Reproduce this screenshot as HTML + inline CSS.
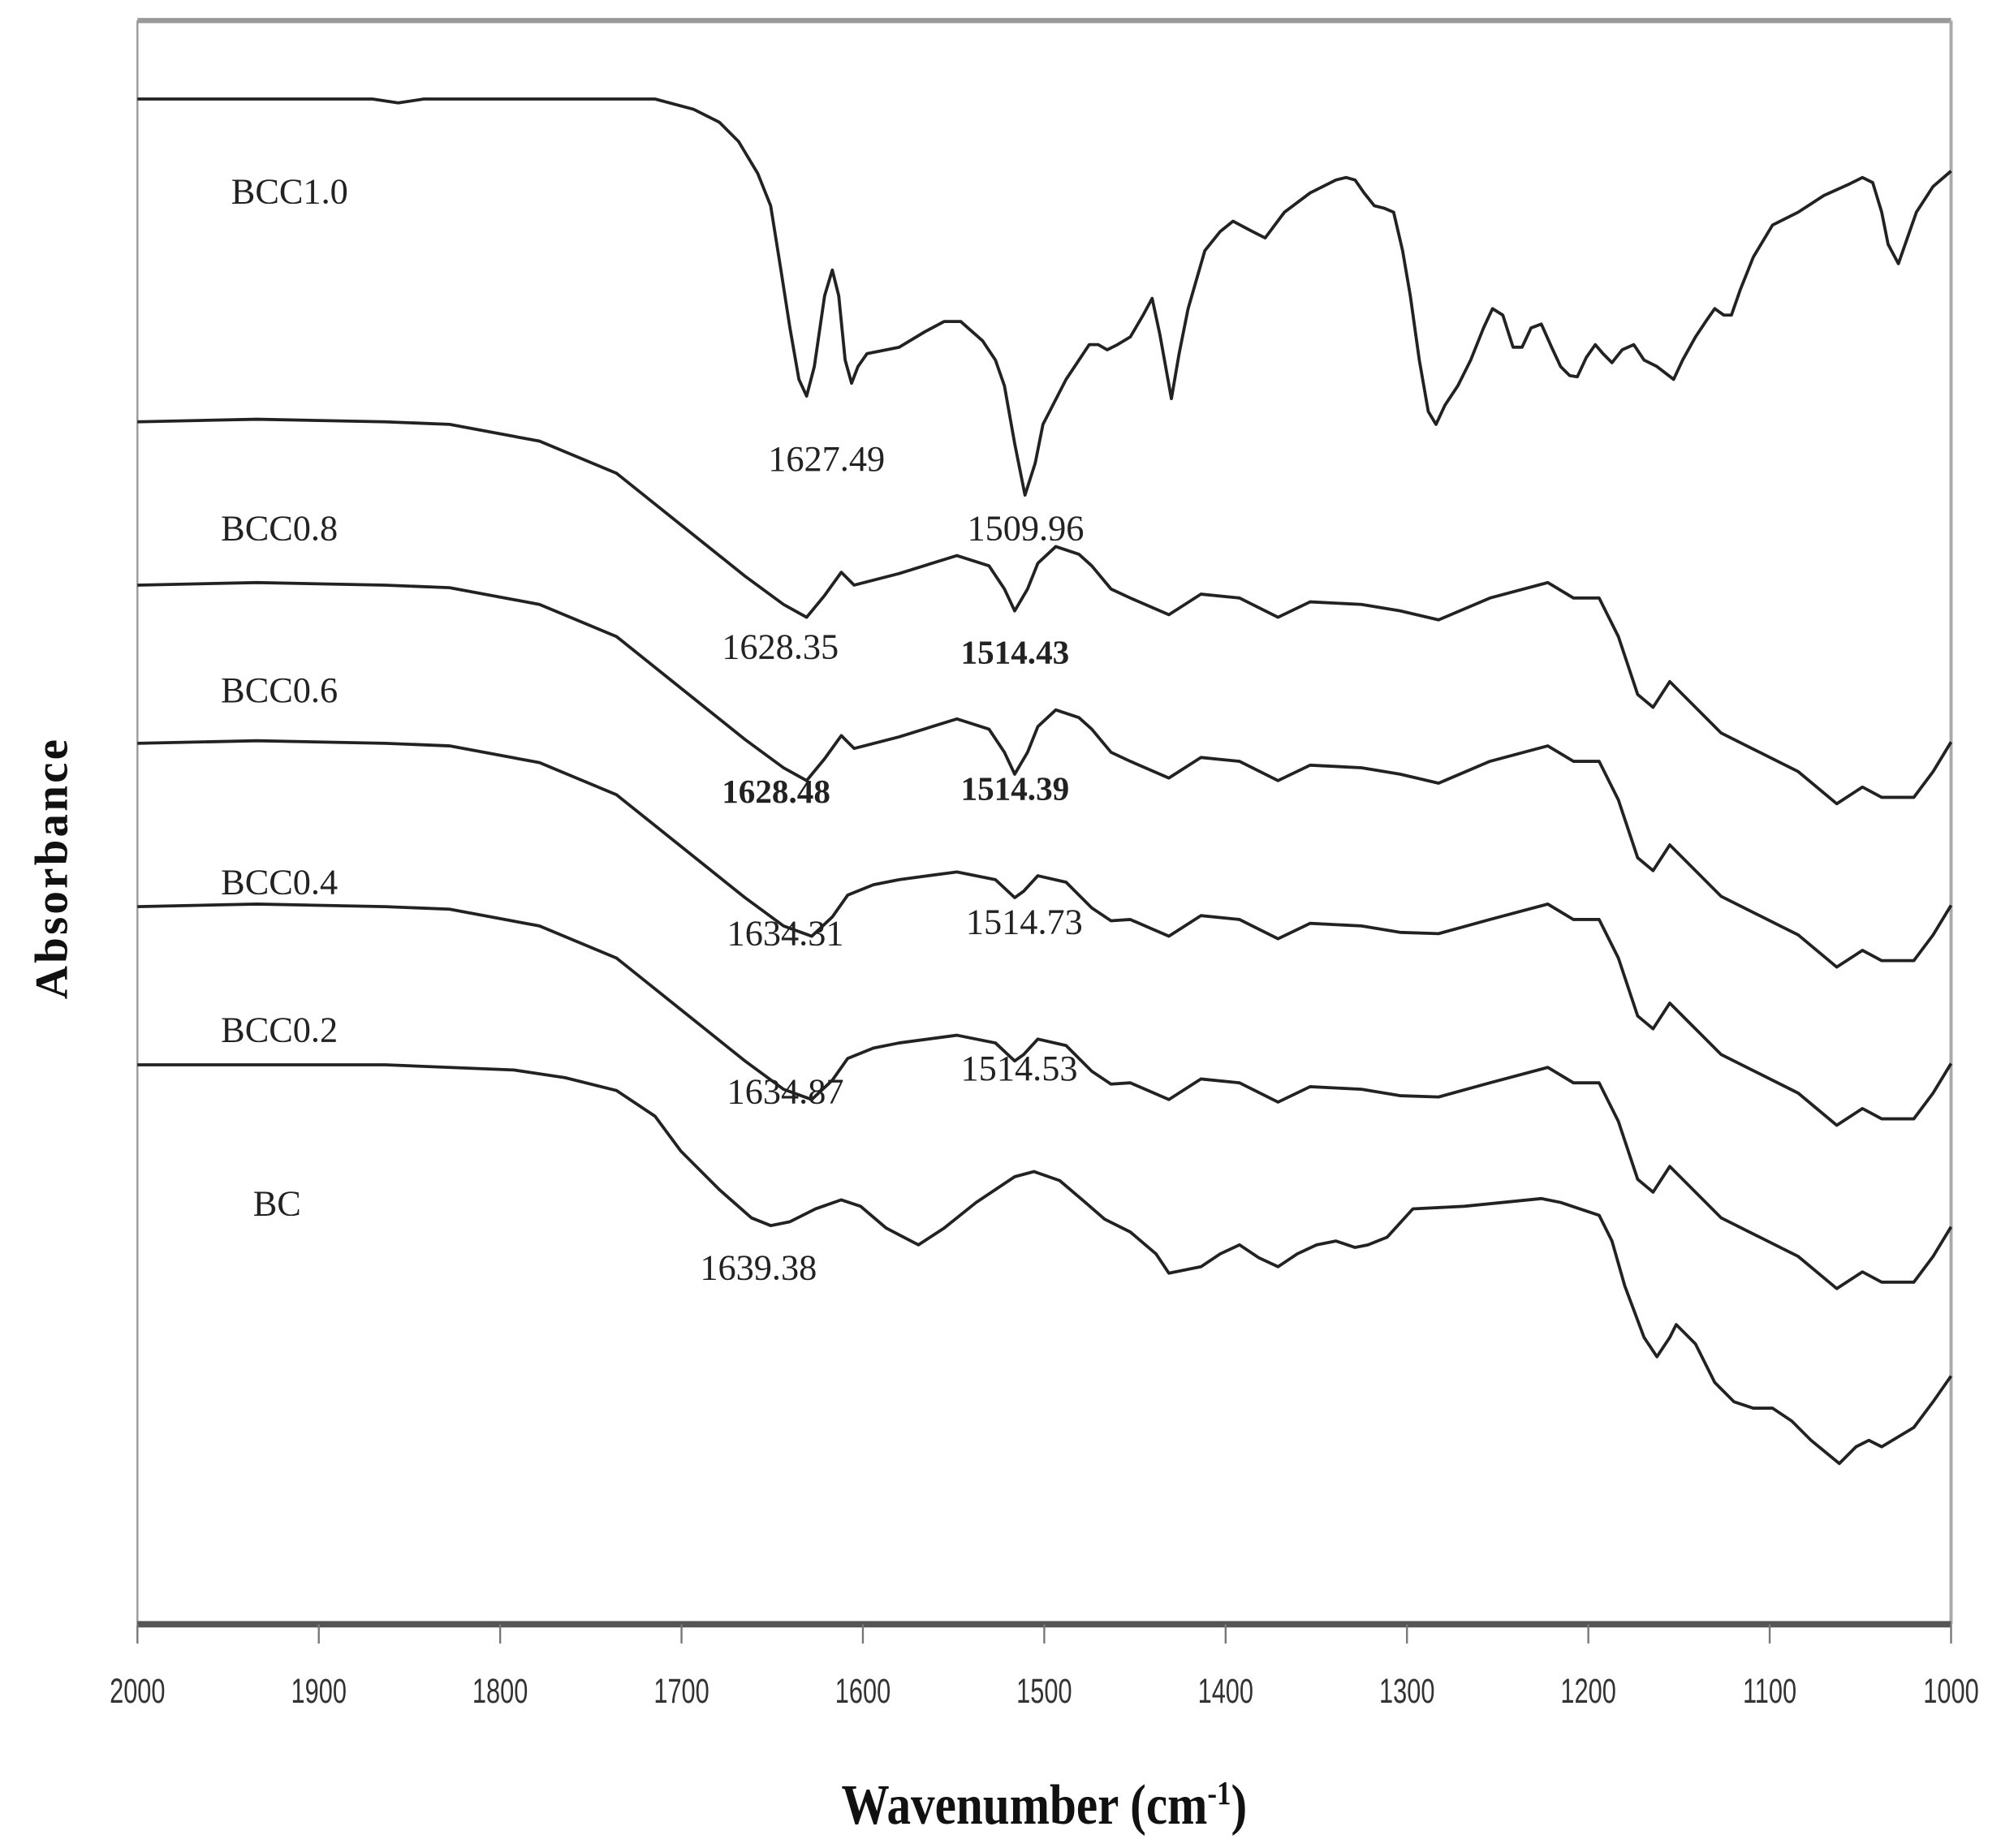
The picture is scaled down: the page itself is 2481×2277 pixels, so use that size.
<!DOCTYPE html>
<html><head><meta charset="utf-8"><style>
html,body{margin:0;padding:0;background:#fff;}
svg{display:block;}
</style></head><body>
<svg width="2481" height="2277" viewBox="0 0 1568 1437" preserveAspectRatio="none" xmlns="http://www.w3.org/2000/svg">
<defs>
<polyline id="t1" fill="none" stroke="#222" stroke-width="2.4" stroke-linejoin="round" points="107,0 200,-2 300,0 350,2 420,15 480,40 530,80 580,120 610,142 628,152 642,135 655,117 665,127 700,118 745,104 770,112 782,130 790,147 800,130 808,110 822,97 840,103 850,112 865,130 880,137 910,150 935,134 965,137 995,152 1020,140 1060,142 1090,147 1120,154 1160,137 1205,125 1225,137 1245,137 1260,167 1275,212 1287,222 1300,202 1315,217 1340,242 1370,257 1400,272 1430,297 1450,284 1465,292 1490,292 1505,272 1519,249"/>
<polyline id="t2" fill="none" stroke="#222" stroke-width="2.4" stroke-linejoin="round" points="107,0 200,-2 300,0 350,2 420,15 480,40 530,80 580,120 610,142 632,150 648,135 660,118 680,110 700,106 745,100 775,106 790,120 797,115 808,103 830,108 850,128 865,138 880,137 910,150 935,134 965,137 995,152 1020,140 1060,142 1090,147 1120,148 1160,137 1205,125 1225,137 1245,137 1260,167 1275,212 1287,222 1300,202 1315,217 1340,242 1370,257 1400,272 1430,297 1450,284 1465,292 1490,292 1505,272 1519,249"/>
</defs>
<line x1="107" y1="16" x2="1519" y2="16" stroke="#999" stroke-width="4"/>
<line x1="107" y1="16" x2="107" y2="1263" stroke="#999" stroke-width="1.5"/>
<line x1="1519" y1="16" x2="1519" y2="1263" stroke="#aaa" stroke-width="2.5"/>
<line x1="107" y1="1263" x2="1519" y2="1263" stroke="#555" stroke-width="5"/>
<g stroke="#777" stroke-width="1.5">
<line x1="107" y1="1263" x2="107" y2="1278"/><line x1="248.2" y1="1263" x2="248.2" y2="1278"/><line x1="389.4" y1="1263" x2="389.4" y2="1278"/><line x1="530.6" y1="1263" x2="530.6" y2="1278"/><line x1="671.8" y1="1263" x2="671.8" y2="1278"/><line x1="813" y1="1263" x2="813" y2="1278"/><line x1="954.2" y1="1263" x2="954.2" y2="1278"/><line x1="1095.4" y1="1263" x2="1095.4" y2="1278"/><line x1="1236.6" y1="1263" x2="1236.6" y2="1278"/><line x1="1377.8" y1="1263" x2="1377.8" y2="1278"/><line x1="1519" y1="1263" x2="1519" y2="1278"/>
</g>
<g font-family="Liberation Sans, sans-serif" font-size="27" fill="#333" text-anchor="middle">
<text transform="translate(107,1324) scale(0.72,1)">2000</text>
<text transform="translate(248.2,1324) scale(0.72,1)">1900</text>
<text transform="translate(389.4,1324) scale(0.72,1)">1800</text>
<text transform="translate(530.6,1324) scale(0.72,1)">1700</text>
<text transform="translate(671.8,1324) scale(0.72,1)">1600</text>
<text transform="translate(813,1324) scale(0.72,1)">1500</text>
<text transform="translate(954.2,1324) scale(0.72,1)">1400</text>
<text transform="translate(1095.4,1324) scale(0.72,1)">1300</text>
<text transform="translate(1236.6,1324) scale(0.72,1)">1200</text>
<text transform="translate(1377.8,1324) scale(0.72,1)">1100</text>
<text transform="translate(1519,1324) scale(0.72,1)">1000</text>
</g>
<text transform="translate(813,1418) scale(0.85,1)" font-family="Liberation Serif, serif" font-weight="bold" font-size="44" text-anchor="middle" fill="#111">Wavenumber (cm<tspan dy="-15" font-size="26">-1</tspan><tspan dy="15">)</tspan></text>
<text transform="translate(52,675) rotate(-90)" font-family="Liberation Serif, serif" font-weight="bold" font-size="36" text-anchor="middle" fill="#111" letter-spacing="2">Absorbance</text>
<polyline fill="none" stroke="#222" stroke-width="2.4" stroke-linejoin="round" points="107,77 290,77 310,80 330,77 510,77 540,85 560,95 575,110 590,135 600,160 608,210 615,255 622,295 628,308 634,285 642,230 648,210 653,230 658,280 663,298 668,285 675,275 700,270 720,258 735,250 748,250 765,265 775,280 782,300 790,345 798,385 806,360 812,330 830,295 848,268 855,268 862,272 870,268 880,262 890,245 897,232 903,260 912,310 918,275 925,240 938,195 950,180 960,172 975,180 985,185 1000,165 1020,150 1040,140 1048,138 1055,140 1062,150 1070,160 1078,162 1085,165 1092,195 1098,230 1105,280 1112,320 1118,330 1125,315 1135,300 1145,280 1155,255 1162,240 1170,245 1178,270 1185,270 1192,255 1200,252 1208,270 1215,285 1222,292 1228,293 1235,278 1242,268 1248,275 1255,282 1263,272 1272,268 1280,280 1290,285 1303,295 1310,280 1320,262 1328,250 1335,240 1342,245 1348,245 1355,225 1365,200 1380,175 1400,165 1420,152 1440,143 1450,138 1458,142 1465,165 1470,190 1478,205 1485,185 1492,165 1505,145 1519,133"/>
<use href="#t1" transform="translate(0,328)"/>
<use href="#t1" transform="translate(0,455)"/>
<use href="#t2" transform="translate(0,578)"/>
<use href="#t2" transform="translate(0,705)"/>
<polyline fill="none" stroke="#222" stroke-width="2.4" stroke-linejoin="round" points="107,828 300,828 400,832 440,838 480,848 510,868 530,895 560,925 585,947 600,953 615,950 635,940 655,933 670,938 690,955 715,968 735,955 760,935 790,915 805,911 825,918 845,935 860,948 880,958 900,975 910,990 935,985 950,975 965,968 980,978 995,985 1010,975 1025,968 1040,965 1055,970 1065,968 1080,962 1100,940 1140,938 1200,932 1215,935 1245,945 1255,965 1265,1000 1280,1040 1290,1055 1300,1040 1305,1030 1320,1045 1335,1075 1350,1090 1365,1095 1380,1095 1395,1105 1410,1120 1432,1138 1445,1125 1455,1120 1465,1125 1490,1110 1505,1090 1519,1070"/>
<g font-family="Liberation Serif, serif" font-size="28" fill="#222">
<text x="180" y="158">BCC1.0</text>
<text x="598" y="366">1627.49</text>
<text x="172" y="420">BCC0.8</text>
<text x="753" y="420">1509.96</text>
<text x="562" y="512">1628.35</text>
<text x="748" y="516" font-weight="bold" font-size="26">1514.43</text>
<text x="172" y="546">BCC0.6</text>
<text x="562" y="624" font-weight="bold" font-size="26">1628.48</text>
<text x="748" y="622" font-weight="bold" font-size="26">1514.39</text>
<text x="172" y="695">BCC0.4</text>
<text x="566" y="735">1634.31</text>
<text x="752" y="726">1514.73</text>
<text x="172" y="810">BCC0.2</text>
<text x="566" y="858">1634.87</text>
<text x="748" y="840">1514.53</text>
<text x="197" y="945">BC</text>
<text x="545" y="995">1639.38</text>
</g>
</svg>
</body></html>
